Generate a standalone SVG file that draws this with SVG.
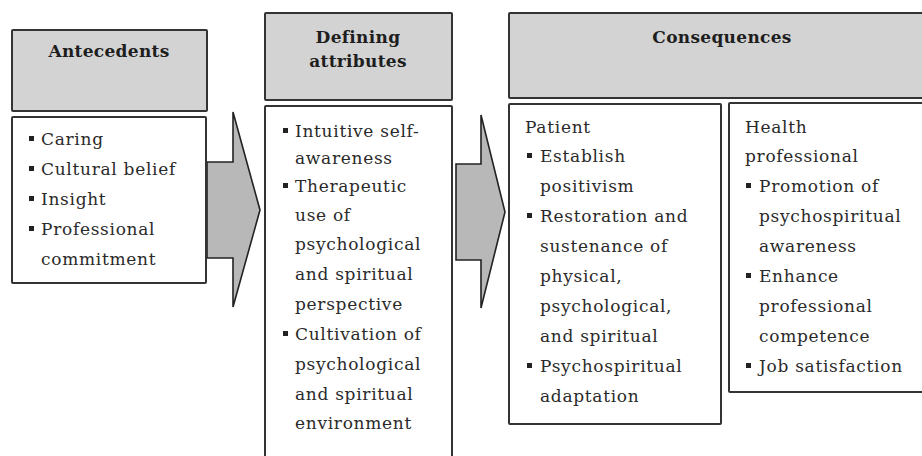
<svg xmlns="http://www.w3.org/2000/svg" width="922" height="456" viewBox="0 0 922 456">
<style>
.hdr{fill:#d3d3d3;stroke:#333;stroke-width:2}
.box{fill:#fff;stroke:#333;stroke-width:2}
.arr{fill:#b8b8b8;stroke:#222;stroke-width:1.6;stroke-linejoin:miter}
.h{font-family:"DejaVu Serif",serif;font-weight:bold;font-size:17px;fill:#1e1e1e;text-anchor:middle;letter-spacing:0.3px}
.t{font-family:"DejaVu Serif",serif;font-size:17px;fill:#2a2a2a;letter-spacing:0.7px}
.bl{fill:#222}
</style>
<defs>
<rect id="bul" x="0" y="-9" width="5" height="5"/>
</defs>
<rect width="922" height="456" fill="#fff"/>

<g id="connectors">
<polygon class="arr" points="207,162 233,162 233,112 260,210 233,307 233,258 207,258"/>
<polygon class="arr" points="456,164 481,164 481,115 505,212 481,308 481,260 456,260"/>
</g>

<g id="antecedents-header">
<rect class="hdr" x="12" y="30" width="195" height="81" rx="1"/>
<text class="h" x="109" y="57">Antecedents</text>
</g>

<g id="antecedents">
<rect class="box" x="12" y="117" width="194" height="166" rx="1"/>
<g class="bl">
<use href="#bul" x="29" y="145"/><use href="#bul" x="29" y="175"/><use href="#bul" x="29" y="205"/><use href="#bul" x="29" y="235"/>
</g>
<text class="t"><tspan x="41" y="145">Caring</tspan><tspan x="41" y="175">Cultural belief</tspan><tspan x="41" y="205">Insight</tspan><tspan x="41" y="235">Professional</tspan><tspan x="41" y="265">commitment</tspan></text>
</g>

<g id="defining-header">
<rect class="hdr" x="265" y="13" width="187" height="87" rx="1"/>
<text class="h"><tspan x="358" y="43">Defining</tspan><tspan x="358" y="67">attributes</tspan></text>
</g>

<g id="defining">
<rect class="box" x="265" y="106" width="187" height="360" rx="1"/>
<g class="bl">
<use href="#bul" x="283" y="137"/><use href="#bul" x="283" y="192"/><use href="#bul" x="283" y="340"/>
</g>
<text class="t"><tspan x="295" y="137">Intuitive self-</tspan><tspan x="295" y="164">awareness</tspan><tspan x="295" y="192">Therapeutic</tspan><tspan x="295" y="221">use of</tspan><tspan x="295" y="250">psychological</tspan><tspan x="295" y="280">and spiritual</tspan><tspan x="295" y="310">perspective</tspan><tspan x="295" y="340">Cultivation of</tspan><tspan x="295" y="370">psychological</tspan><tspan x="295" y="400">and spiritual</tspan><tspan x="295" y="429">environment</tspan></text>
</g>

<g id="consequences-header">
<rect class="hdr" x="509" y="13" width="420" height="85" rx="1"/>
<text class="h" x="722" y="43">Consequences</text>
</g>

<g id="patient">
<rect class="box" x="509" y="104" width="212" height="320" rx="1"/>
<g class="bl">
<use href="#bul" x="527" y="162"/><use href="#bul" x="527" y="222"/><use href="#bul" x="527" y="372"/>
</g>
<text class="t"><tspan x="525" y="133">Patient</tspan><tspan x="540" y="162">Establish</tspan><tspan x="540" y="192">positivism</tspan><tspan x="540" y="222">Restoration and</tspan><tspan x="540" y="252">sustenance of</tspan><tspan x="540" y="282">physical,</tspan><tspan x="540" y="312">psychological,</tspan><tspan x="540" y="342">and spiritual</tspan><tspan x="540" y="372">Psychospiritual</tspan><tspan x="540" y="402">adaptation</tspan></text>
</g>

<g id="health-professional">
<rect class="box" x="729" y="103" width="200" height="289" rx="1"/>
<g class="bl">
<use href="#bul" x="746" y="192"/><use href="#bul" x="746" y="282"/><use href="#bul" x="746" y="372"/>
</g>
<text class="t"><tspan x="745" y="133">Health</tspan><tspan x="745" y="162">professional</tspan><tspan x="759" y="192">Promotion of</tspan><tspan x="759" y="222">psychospiritual</tspan><tspan x="759" y="252">awareness</tspan><tspan x="759" y="282">Enhance</tspan><tspan x="759" y="312">professional</tspan><tspan x="759" y="342">competence</tspan><tspan x="759" y="372">Job satisfaction</tspan></text>
</g>
</svg>
